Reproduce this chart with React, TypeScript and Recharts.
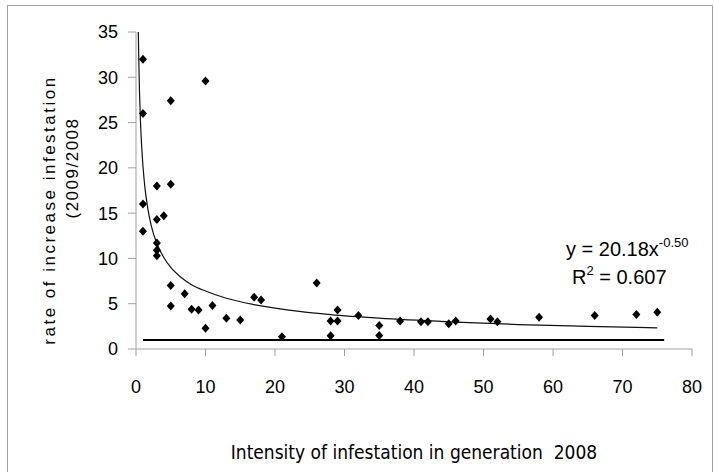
import { Scatter, ScatterChart, XAxis, YAxis } from "recharts"

// infestation intensity in 2008 (x) vs rate of increase 2009/2008 (y)
const intensity2008 = [
  1, 1, 1, 1, 3, 3, 3, 3, 3, 4, 5, 5, 5, 5, 7, 8, 9, 10, 10, 11, 13, 15,
  17, 18, 21, 26, 28, 28, 29, 29, 32, 35, 35, 38, 41, 42, 45, 46, 51, 52,
  58, 66, 72, 75
]
const rateIncrease = [
  32, 26, 16, 13, 18, 14.3, 11.7, 10.9, 10.3, 14.7, 27.4, 18.2, 7, 4.75,
  6.1, 4.4, 4.3, 29.6, 2.3, 4.8, 3.4, 3.2, 5.7, 5.4, 1.35, 7.3, 3.1, 1.45,
  3.1, 4.3, 3.7, 2.6, 1.5, 3.1, 3.0, 3.0, 2.8, 3.1, 3.3, 3.0, 3.5, 3.7,
  3.8, 4.05
]

// power trend line (y = 20.18x^-0.50)
const trendX = [0.333, 0.4, 0.5, 0.65, 0.8, 1, 1.3, 1.7, 2.2, 3, 4, 5, 6.5, 8, 10, 13, 17, 22, 28, 35, 45, 55, 65, 75]
const trendY = [35, 31.9, 28.5, 25, 22.6, 20.2, 17.7, 15.5, 13.6, 11.65, 10.1, 9.0, 7.9, 7.1, 6.4, 5.6, 4.9, 4.3, 3.8, 3.4, 3.0, 2.7, 2.5, 2.33]

// horizontal reference at rate = 1
const baselineX = [1, 76]
const baselineY = [1, 1]

const xTicks = [0, 10, 20, 30, 40, 50, 60, 70, 80]
const yTicks = [0, 5, 10, 15, 20, 25, 30, 35]

const points = intensity2008.map((x, i) => ({ x, y: rateIncrease[i] }))
const trend = trendX.map((x, i) => ({ x, y: trendY[i] }))
const baseline = baselineX.map((x, i) => ({ x, y: baselineY[i] }))

const sans = "'Liberation Sans', Arial, sans-serif"
const narrow = "'DejaVu Sans Condensed', 'Liberation Sans', sans-serif"

const Diamond = (props: any) => {
  const { cx, cy } = props
  return (
    <polygon
      points={`${cx},${cy - 4.5} ${cx + 4},${cy} ${cx},${cy + 4.5} ${cx - 4},${cy}`}
      fill="#000"
    />
  )
}

const NoDot = () => <g />

export default function App() {
  return (
    <div style={{ position: "absolute", left: 0, top: 0, width: 714, height: 472, background: "#fff" }}>
      <div
        style={{
          position: "absolute",
          left: 7,
          top: 5,
          width: 706,
          height: 480,
          boxSizing: "border-box",
          border: "1px solid #a0a0a0"
        }}
      />
      <ScatterChart
        width={714}
        height={472}
        margin={{ top: 32, right: 22, bottom: 63, left: 76 }}
        style={{ position: "absolute", left: 0, top: 0 }}
      >
        <XAxis
          type="number"
          dataKey="x"
          domain={[0, 80]}
          ticks={xTicks}
          height={60}
          stroke="#a0a0a0"
          tickSize={7}
          tickMargin={24}
          tick={{ fill: "#000", fontSize: 18, fontFamily: sans }}
        />
        <YAxis
          type="number"
          dataKey="y"
          domain={[0, 35]}
          ticks={yTicks}
          width={60}
          stroke="#a0a0a0"
          tickSize={8}
          tickMargin={10}
          tick={{ fill: "#000", fontSize: 18, fontFamily: sans }}
        />
        <Scatter
          data={baseline}
          shape={NoDot}
          line={{ stroke: "#000", strokeWidth: 2 }}
          isAnimationActive={false}
        />
        <Scatter
          data={trend}
          shape={NoDot}
          line={{ stroke: "#111", strokeWidth: 1.2 }}
          lineJointType="monotoneX"
          isAnimationActive={false}
        />
        <Scatter data={points} shape={Diamond} isAnimationActive={false} />
      </ScatterChart>
      <svg
        width={714}
        height={472}
        style={{ position: "absolute", left: 0, top: 0, pointerEvents: "none" }}
      >
        <text
          transform="translate(55,210) rotate(-90)"
          textAnchor="middle"
          fontSize={17}
          letterSpacing={2.5}
          fontFamily={sans}
          fill="#000"
        >
          rate  of  increase infestation
        </text>
        <text
          transform="translate(78,168) rotate(-90)"
          textAnchor="middle"
          fontSize={17}
          letterSpacing={1.5}
          fontFamily={sans}
          fill="#000"
        >
          (2009/2008
        </text>
        <text x={414} y={459} textAnchor="middle" fontSize={19} fontFamily={narrow} fill="#000" style={{ whiteSpace: "pre" }}>
          Intensity of infestation in generation  2008
        </text>
        <text x={566} y={256} fontSize={20} fontFamily={sans} fill="#000">
          y = 20.18x<tspan fontSize={13} dy={-9}>-0.50</tspan>
        </text>
        <text x={572} y={284} fontSize={20} fontFamily={sans} fill="#000">
          R<tspan fontSize={13} dy={-9}>2</tspan>
          <tspan dy={9}> = 0.607</tspan>
        </text>
      </svg>
    </div>
  )
}
